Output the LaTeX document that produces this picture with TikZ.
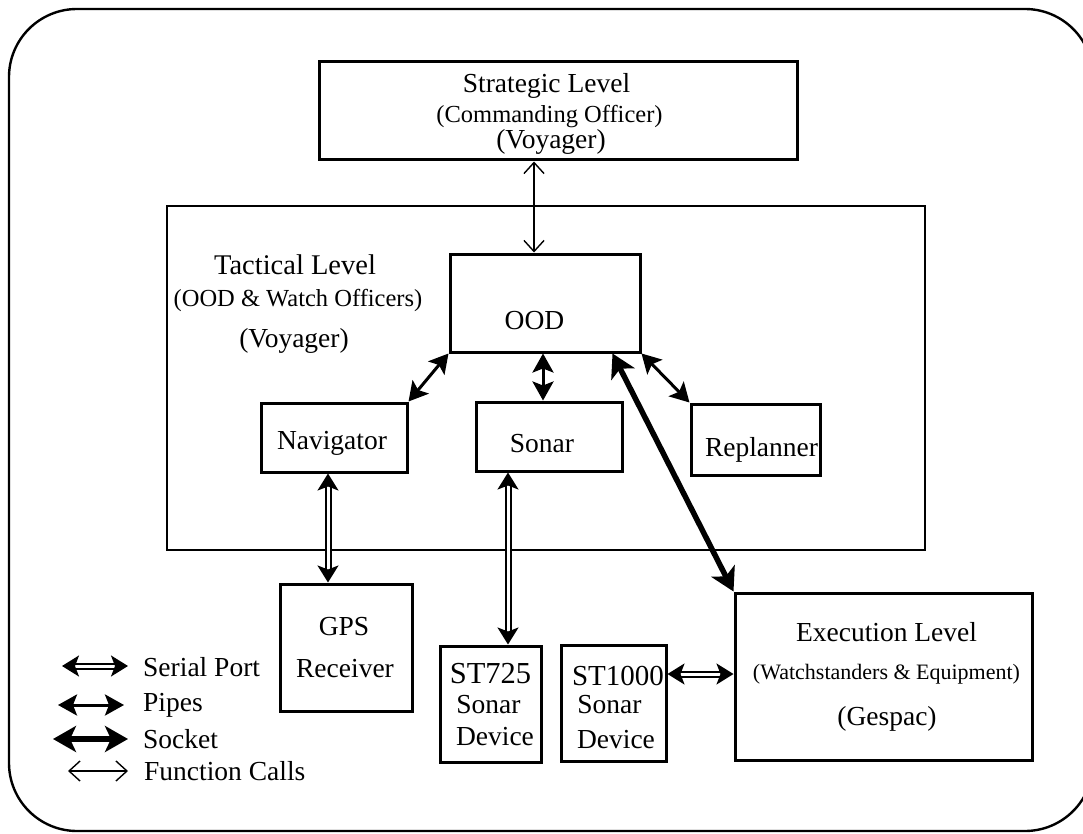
\documentclass[tikz,border=0pt]{standalone}
\usepackage{fontspec}
\setmainfont{Liberation Serif}
\usetikzlibrary{arrows.meta,calc}
\newcommand\fMain{\fontsize{27.5pt}{30pt}\selectfont}
\newcommand\fSub{\fontsize{24.5pt}{27pt}\selectfont}
\newcommand\fSmall{\fontsize{22pt}{25pt}\selectfont}
\newcommand\fTact{\fontsize{28.5pt}{31pt}\selectfont}
\newcommand\fBig{\fontsize{30.5pt}{33pt}\selectfont}
\tikzset{
  box/.style={draw, line width=3pt, inner sep=0pt},
  txt/.style={inner sep=0pt, font=\fMain},
  pipe/.style={line width=3pt, {Stealth[length=19pt,width=21pt,inset=4pt]}-{Stealth[length=19pt,width=21pt,inset=4pt]}},
  socket/.style={line width=5.5pt, {Stealth[length=23pt,width=26pt,inset=6pt]}-{Stealth[length=23pt,width=26pt,inset=6pt]}},
  fcall/.style={line width=1.4pt, {Straight Barb[length=11pt,width=20pt]}-{Straight Barb[length=11pt,width=20pt]}},
  serial/.style={double, line width=2pt, double distance=3pt, {Stealth[length=17pt,width=21pt,inset=4pt]}-{Stealth[length=17pt,width=21pt,inset=4pt]}},
}
\begin{document}
\begin{tikzpicture}[x=1pt,y=-1pt]
\useasboundingbox (0,0) rectangle (1083,834);
% outer frame
\draw[line width=2.4pt, rounded corners=68pt] (9,9) rectangle (1093,831);

% boxes
\node[box, minimum width=478pt, minimum height=98pt] (strat) at (558,111) {};
\node[box, line width=2.8pt, minimum width=758pt, minimum height=344pt] (tact) at (546,378) {};
\node[box, minimum width=190pt, minimum height=98pt] (ood) at (545,303) {};
\node[box, minimum width=146pt, minimum height=69pt] (nav) at (334,437.5) {};
\node[box, minimum width=146pt, minimum height=69pt] (sonar) at (549,436.5) {};
\node[box, minimum width=129pt, minimum height=71pt] (repl) at (755.5,439.5) {};
\node[box, minimum width=132pt, minimum height=127pt] (gps) at (346,647.5) {};
\node[box, minimum width=101pt, minimum height=116pt] (st725) at (490.5,704) {};
\node[box, minimum width=105pt, minimum height=116pt] (st1000) at (613.5,703) {};
\node[box, minimum width=297pt, minimum height=167pt] (exec) at (883.5,676.5) {};

% texts
\node[txt] (stratT1) at (546.5,86) {Strategic Level};
\node[txt, font=\fSub] (stratT2) at (549.5,117) {(Commanding Officer)};
\node[txt] (stratT3) at (551,142) {(Voyager)};

\node[txt, font=\fTact] (tactT1) at (295,265) {Tactical Level};
\node[txt, font=\fSub] (tactT2) at (298,300.5) {(OOD \& Watch Officers)};
\node[txt] (tactT3) at (294,341) {(Voyager)};

\node[txt] (oodT) at (534.5,321) {OOD};
\node[txt] (navT) at (332,443) {Navigator};
\node[txt] (sonarT) at (542,444) {Sonar};
\node[txt] (replT) at (761.5,449.5) {Replanner};

\node[txt] (gpsT1) at (344,626.5) {GPS};
\node[txt] (gpsT2) at (345,669) {Receiver};

\node[txt, font=\fBig] (stA1) at (490.5,673.5) {ST725};
\node[txt] (stA2) at (488.5,705) {Sonar};
\node[txt] (stA3) at (495,737) {Device};

\node[txt, font=\fontsize{29pt}{31pt}\selectfont] (stB1) at (618,675.5) {ST1000};
\node[txt] (stB2) at (609.5,705) {Sonar};
\node[txt] (stB3) at (616,740) {Device};

\node[txt] (execT1) at (886.5,632) {Execution Level};
\node[txt, font=\fSmall] (execT2) at (886.5,674) {(Watchstanders \& Equipment)};
\node[txt] (execT3) at (887,718.5) {(Gespac)};

% connectors
\draw[fcall] ([xshift=-11pt]ood.north |- strat.south) -- ([xshift=-11pt]ood.north);
\draw[pipe] (ood.south west) -- (nav.north east);
\draw[pipe] ([xshift=-2pt]ood.south) -- ([xshift=-6pt]sonar.north);
\draw[pipe] (ood.south east) -- (repl.north west);
\draw[socket] ([xshift=-29pt]ood.south east) -- (exec.north west);
\draw[serial] ([xshift=-6pt]nav.south) -- ([xshift=-18pt]gps.north);
\draw[serial] ([xshift=-41pt]sonar.south) -- ([xshift=17.5pt]st725.north);
\draw[serial] ([yshift=29pt]st1000.east) -- ([yshift=2.5pt]exec.west);

% legend
\coordinate (lgA1) at (62,666);
\coordinate (lgA2) at (128,666);
\coordinate (lgB1) at (58,705);
\coordinate (lgB2) at (124,705);
\coordinate (lgC1) at (53,739);
\coordinate (lgC2) at (128,739);
\coordinate (lgD1) at (68,771);
\coordinate (lgD2) at (128,771);
\draw[serial] (lgA1) -- (lgA2);
\draw[pipe] (lgB1) -- (lgB2);
\draw[socket] (lgC1) -- (lgC2);
\draw[fcall] (lgD1) -- (lgD2);
\node[txt, anchor=west] (lgAT) at (143,667) {Serial Port};
\node[txt, anchor=west] (lgBT) at (143,705) {Pipes};
\node[txt, anchor=west] (lgCT) at (143,739) {Socket};
\node[txt, anchor=west] (lgDT) at (144,771) {Function Calls};
\end{tikzpicture}
\end{document}
